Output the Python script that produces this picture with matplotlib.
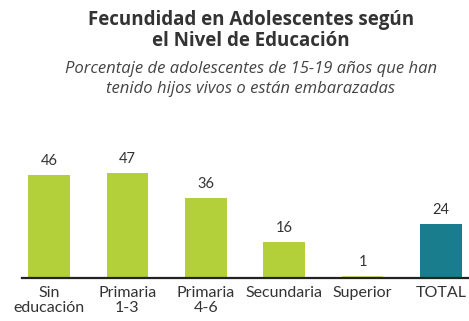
# Fecundidad en adolescentes segun nivel de educacion

import matplotlib.pyplot as plt

categories = ["Sin\neducación", "Primaria\n1-3", "Primaria\n4-6",
              "Secundaria", "Superior", "TOTAL"]
values = [46, 47, 36, 16, 1, 24]
value_labels = ["46", "47", "36", "16", "1", "24"]

GREEN = "#b3cf3a"
TEAL = "#1a7d8d"


def main():
    plt.rcParams["font.family"] = ["Lato", "DejaVu Sans"]
    fig = plt.figure(figsize=(4.69, 3.21), dpi=100)
    ax = fig.add_axes([0.047, 0.134, 0.953, 0.40])

    colors = [GREEN] * 5 + [TEAL]
    colors[4] = "#d9e66a"
    xs = range(len(values))
    ax.bar(xs, values, width=0.53, color=colors, zorder=2)

    for x, v, lab in zip(xs, values, value_labels):
        ax.annotate(lab, (x, v), xytext=(0, 5), textcoords="offset points",
                    ha="center", va="bottom", fontsize=10.5, color="#333333")

    ax.set_xlim(-0.344, 5.357)
    ax.set_ylim(0, 57.5)
    for side in ["top", "right", "left"]:
        ax.spines[side].set_visible(False)
    ax.spines["bottom"].set_linewidth(1.6)
    ax.spines["bottom"].set_color("#222222")
    ax.set_yticks([])
    ax.set_xticks(list(xs))
    ax.set_xticklabels(categories, fontsize=11.5, color="#333333",
                       linespacing=1.1)
    ax.tick_params(axis="x", length=0, pad=6)

    fig.text(0.535, 0.97, "Fecundidad en Adolescentes según\nel Nivel de Educación",
             ha="center", va="top", fontsize=13.5, fontweight="bold",
             color="#333333", linespacing=1.12, family=["Open Sans", "DejaVu Sans"])
    fig.text(0.535, 0.81, "Porcentaje de adolescentes de 15-19 años que han\n"
             "tenido hijos vivos o están embarazadas",
             ha="center", va="top", fontsize=12, style="italic",
             color="#444444", linespacing=1.35, family=["Open Sans", "DejaVu Sans"])

    fig.savefig("out.png", dpi=100)


if __name__ == "__main__":
    main()
